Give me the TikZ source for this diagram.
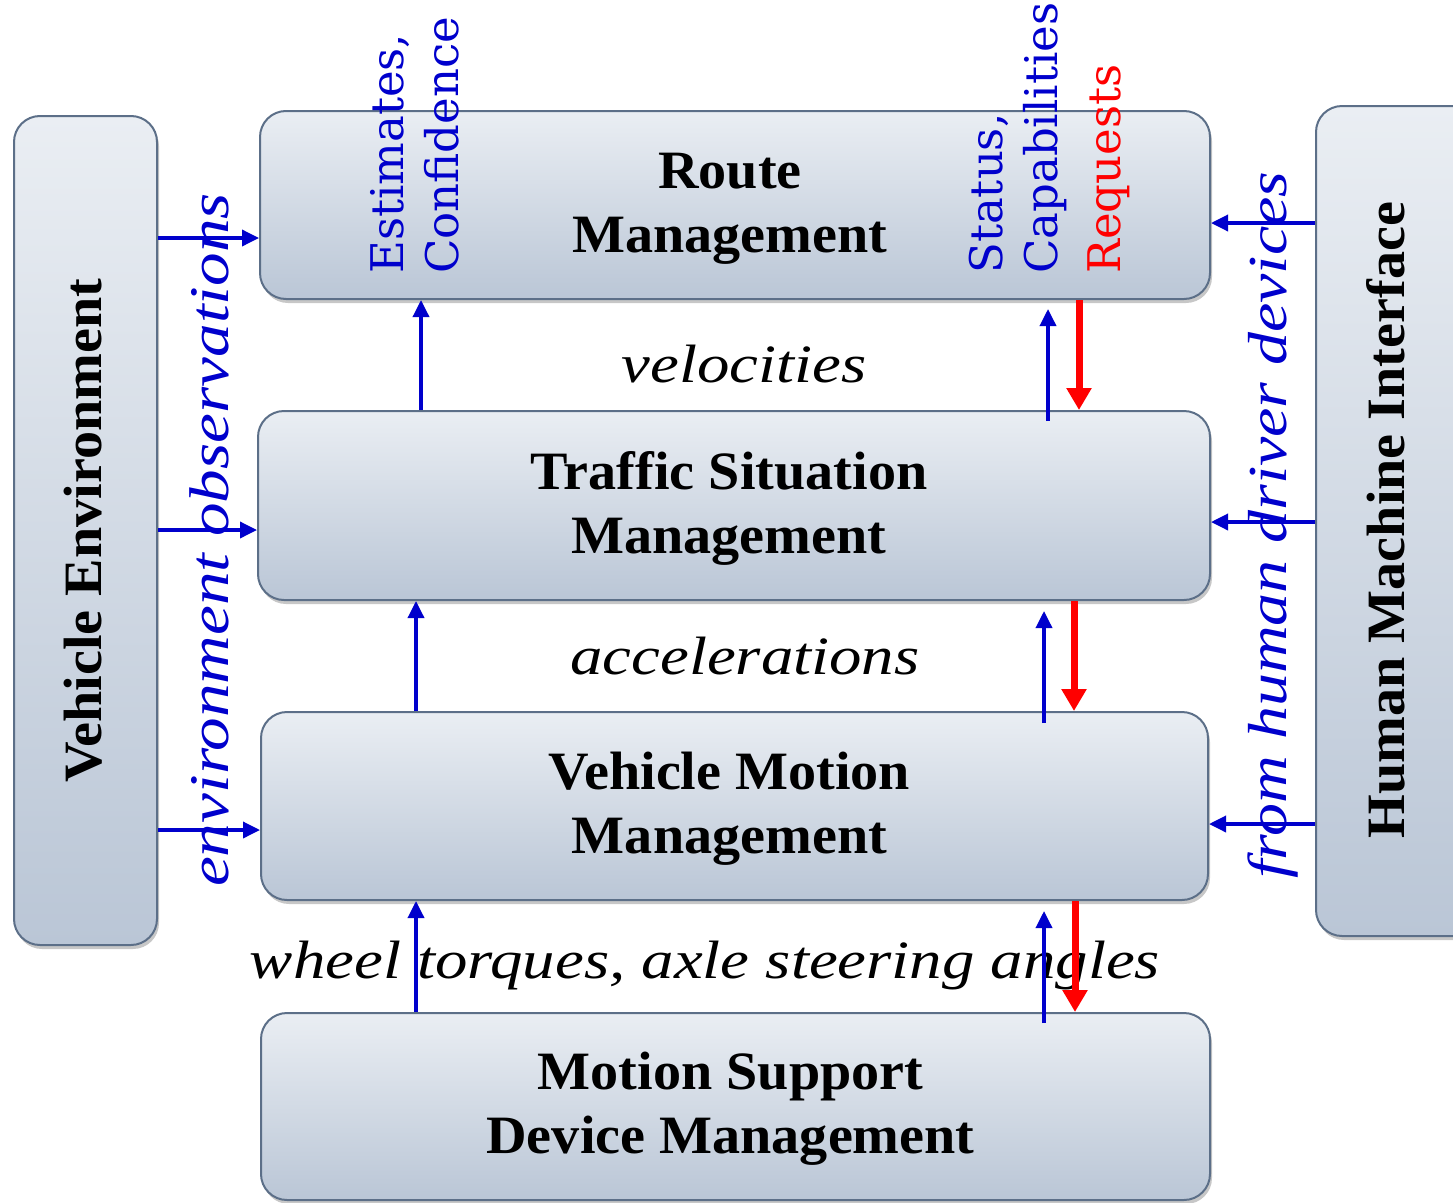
\documentclass[tikz,border=0pt]{standalone}
\usepackage{fontspec}
\setmainfont{Liberation Serif}
\newfontfamily\headfont{Liberation Serif}[FakeStretch=1.04]
\newfontfamily\flowfont{Liberation Serif}[FakeStretch=1.2]
\newfontfamily\tagfont{DejaVu Serif}
\usetikzlibrary{arrows.meta,shadows}

\definecolor{boxtop}{RGB}{234,238,243}
\definecolor{boxbot}{RGB}{186,198,214}
\definecolor{boxedge}{RGB}{92,111,136}
\definecolor{flowblue}{RGB}{0,0,204}

\tikzset{
  box/.style={draw=boxedge, line width=2pt, rounded corners=26pt,
    top color=boxtop, bottom color=boxbot, inner sep=0pt,
    drop shadow={shadow xshift=2pt, shadow yshift=-4pt, opacity=0.22, fill=black}},
  head/.style={font=\headfont\bfseries\fontsize{54}{64}\selectfont, align=center, text=black},
  flow/.style={font=\flowfont\itshape\fontsize{54}{64}\selectfont, inner sep=0pt},
  tag/.style={font=\tagfont\fontsize{45}{52}\selectfont, rotate=90, anchor=base west,
    inner sep=0pt, text=flowblue},
  bluearrow/.style={draw=flowblue, line width=3.5pt, -{Triangle[length=17pt,width=16pt]}},
  redarrow/.style={draw=red, line width=7pt, -{Triangle[length=22pt,width=24pt]}},
}

\begin{document}
\begin{tikzpicture}[x=1pt,y=-1pt]
\useasboundingbox (0,0) rectangle (1453,1202);

% side blocks
\node[box, minimum width=143pt, minimum height=829pt] (ve) at (85.5,530.5) {};
\node[box, minimum width=170pt, minimum height=830pt] (hmi) at (1401,521) {};
\node[head, rotate=90] (vet) at (83,531) {Vehicle Environment};
\node[head, rotate=90] (hmit) at (1386,520) {Human Machine Interface};

% management layers
\node[box, minimum width=950pt, minimum height=188pt] (rm) at (735,205) {};
\node[box, minimum width=952pt, minimum height=189pt] (tsm) at (734,505.5) {};
\node[box, minimum width=947pt, minimum height=188pt] (vmm) at (734.5,806) {};
\node[box, minimum width=949pt, minimum height=187pt] (msdm) at (735.5,1106.5) {};
\node[head] (rmt) at ([xshift=-5pt,yshift=-4pt]rm.center) {Route\\Management};
\node[head] (tsmt) at ([xshift=-5pt,yshift=-3pt]tsm.center) {Traffic Situation\\Management};
\node[head] (vmmt) at ([xshift=-5pt,yshift=-3pt]vmm.center) {Vehicle Motion\\Management};
\node[head] (msdmt) at ([xshift=-5pt,yshift=-2pt]msdm.center) {Motion Support\\Device Management};

% signal labels between layers
\node[flow, anchor=base] (vel) at (744,382) {velocities};
\node[flow, anchor=base] (acc) at (745,674) {accelerations};
\node[flow, anchor=base] (whl) at (705,978) {wheel torques, axle steering angles};
\node[flow, rotate=90, anchor=base, text=flowblue, font=\flowfont\itshape\fontsize{56}{64}\selectfont] (env) at (228,540) {environment observations};
\node[flow, rotate=90, anchor=base, text=flowblue, font=\flowfont\itshape\fontsize{55}{64}\selectfont] (hum) at (1286,525) {from human driver devices};

% feedback labels
\node[tag] (est) at (403,274) {Estimates,};
\node[tag] (conf) at (458,274) {Confidence};
\node[tag] (stat) at (1002,274) {Status,};
\node[tag] (capa) at (1057,274) {Capabilities};
\node[tag, text=red] (req) at (1120,274) {Requests};

% reference rows and columns for the connectors
\coordinate (rowA) at (0,238);
\coordinate (rowB) at (0,530);
\coordinate (rowC) at (0,830);
\coordinate (rowD) at (0,223);
\coordinate (rowE) at (0,522);
\coordinate (rowF) at (0,824);
\coordinate (colA) at (421,0);
\coordinate (colB) at (416,0);
\coordinate (colC) at (1048,0);
\coordinate (colD) at (1044,0);
\coordinate (colE) at (1079,0);
\coordinate (colF) at (1074,0);
\coordinate (colG) at (1075,0);

% environment observations
\draw[bluearrow] (ve.east |- rowA) -- (rm.west |- rowA);
\draw[bluearrow] (ve.east |- rowB) -- (tsm.west |- rowB);
\draw[bluearrow] (ve.east |- rowC) -- (vmm.west |- rowC);

% driver inputs
\draw[bluearrow] (hmi.west |- rowD) -- (rm.east |- rowD);
\draw[bluearrow] (hmi.west |- rowE) -- (tsm.east |- rowE);
\draw[bluearrow] (hmi.west |- rowF) -- (vmm.east |- rowF);

% estimates flowing upward
\draw[bluearrow] (tsm.north -| colA) -- (rm.south -| colA);
\draw[bluearrow] (vmm.north -| colB) -- (tsm.south -| colB);
\draw[bluearrow] (msdm.north -| colB) -- (vmm.south -| colB);

% status flowing upward
\draw[bluearrow, shorten <=-11pt, shorten >=9pt] (tsm.north -| colC) -- (rm.south -| colC);
\draw[bluearrow, shorten <=-12pt, shorten >=10pt] (vmm.north -| colD) -- (tsm.south -| colD);
\draw[bluearrow, shorten <=-11pt, shorten >=10pt] (msdm.north -| colD) -- (vmm.south -| colD);

% requests flowing downward
\draw[redarrow] (rm.south -| colE) -- (tsm.north -| colE);
\draw[redarrow] (tsm.south -| colF) -- (vmm.north -| colF);
\draw[redarrow] (vmm.south -| colG) -- (msdm.north -| colG);
\end{tikzpicture}
\end{document}
